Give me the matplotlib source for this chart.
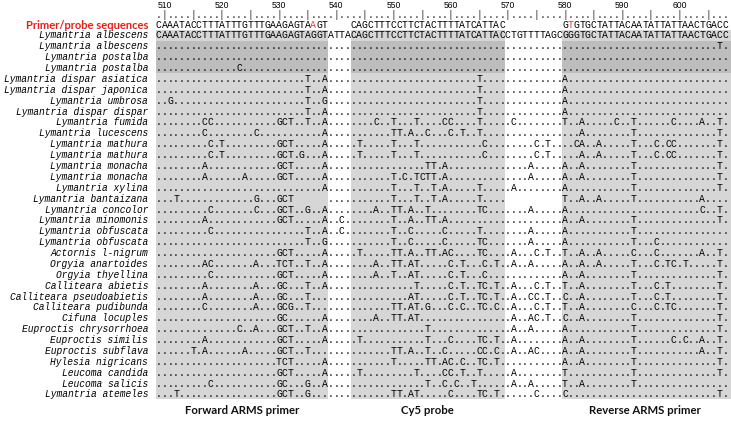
import re
import matplotlib
matplotlib.use("Agg")
import matplotlib.pyplot as plt
from matplotlib.patches import Rectangle

# ==========================================
# DATA
# ==========================================
first_position = 509
tick_positions = [510, 520, 530, 540, 550, 560, 570, 580, 590, 600]

reference_seq = ("CAAATACCTTTATTTGTTTGAAGAGTAGGTATTACAGCTTTCCTTCTACTTTTATCAT"
                 "TACCTGTTTTAGCGGGTGCTATTACAATATTATTAACTGACC")
primer_probe_seq = ("CAAATACCTTTATTTGTTTGAAGAGTAAGT    "
                    "CAGCTTTCCTTCTACTTTTATCATTAC          "
                    "GTGTGCTATTACAATATTATTAACTGACC")
mismatch_cols = [27, 72]   # red bases in the primer row

species = [
    "Lymantria albescens", "Lymantria albescens", "Lymantria postalba",
    "Lymantria postalba", "Lymantria dispar asiatica", "Lymantria dispar japonica",
    "Lymantria umbrosa", "Lymantria dispar dispar", "Lymantria fumida",
    "Lymantria lucescens", "Lymantria mathura", "Lymantria mathura",
    "Lymantria monacha", "Lymantria monacha", "Lymantria xylina",
    "Lymantria bantaizana", "Lymantria concolor", "Lymantria minomonis",
    "Lymantria obfuscata", "Lymantria obfuscata", "Actornis l-nigrum",
    "Orgyia anartoides", "Orgyia thyellina", "Calliteara abietis",
    "Calliteara pseudoabietis", "Calliteara pudibunda", "Cifuna locuples",
    "Euproctis chrysorrhoea", "Euproctis similis", "Euproctis subflava",
    "Hylesia nigricans", "Leucoma candida", "Leucoma salicis",
    "Lymantria atemeles",
]

# differences to the first L. albescens sequence: "<column><bases>"
variants = [
    "FULL",
    "98T",
    "",
    "14C",
    "26T 29A 56T 71A",
    "26T 29A 56T 71A",
    "2G 26T 29G 56T 71A",
    "26T 29A 56T 71A",
    "8CC 21GCT 26T 29A 38C 41T 45T 50CC 56T 62C 71T 74A 80C 83T 90C 95A 98T",
    "8C 17C 29A 41TT 44A 47C 51C 53T 56T 74A 83T 98T",
    "9C 11T 21GCT 29A 35T 41T 45T 57C 66C 68T 73CA 77A 83T 87C 89CC 98T",
    "9C 11T 21GCT 25G 29A 35T 41T 45T 57C 66C 68T 74A 77A 83T 87C 89CC 98T",
    "8A 21GCT 29A 47TT 50A 65A 71A 74A 83T 98T",
    "8A 15A 21GCT 29A 41T 43C 45TCTT 50A 65A 71A 74A 83T 98T",
    "29A 41T 45T 48T 50A 56T 62A 71A 83T 98T",
    "3T 17G 21GCT 41T 45T 48T 50A 56T 71T 74A 77A 83T 95A",
    "9C 17C 21GCT 26G 29A 38A 41TT 44A 47T 56TC 65A 71A 95C 98T",
    "8A 21GCT 29A 32C 41T 44A 47TT 50A 71A 74A 83T 98T",
    "9C 26T 29A 32C 41T 44C 50C 56T 65A 71A 83T",
    "26T 29G 41T 44C 50C 56TC 65A 71A 83T 87C",
    "21GCT 29A 35T 41TT 44A 47TT 50AC 56TC 62A 66C 68T 71T 74A 77A 83C 87C 95A 98T",
    "8AC 17A 21TCT 26T 29A 38A 41TT 44AT 51C 53T 57C 59T 62A 65A 71A 74A 77A 83T 87C 89TC 92T 98T",
    "9C 21GCT 29A 38A 41T 44AT 51C 53T 57C 71A 74A 83T 98T",
    "8A 17A 21GC 26T 29A 45T 51C 53T 56TC 59T 62A 66C 68T 71T 74A 83T 87C 89T 98T",
    "8A 17A 21GC 26T 44AT 51C 53T 56TC 59T 62A 65CC 68T 71C 74A 83T 87C 89T 98T",
    "8C 17A 21GCG 26T 41TT 44AT 47G 51C 53C 56TC 59C 62A 66C 68T 71T 74A 83C 87C 89TC 98T",
    "21GC 29A 38A 41TT 44AT 62A 65AC 68T 71C 74A 83T 98T",
    "14C 17A 21GCT 26T 29A 47T 62A 65A 71A 83T 98T",
    "8A 21GCT 29A 35T 47T 51C 56TC 59T 62A 71A 74A 83T 90C 92C 95A 98T",
    "6T 8A 15A 21GCT 26T 41TT 44A 47T 50C 56CC 59C 62A 65AC 71A 74A 83T 95A 98T",
    "21TCT 29A 41T 47TT 50AC 53C 56TC 59T 71A 74A 83T 98T",
    "21GCT 29A 35T 45T 50CC 53T 56T 62A 71T 83T 98T",
    "9C 21GC 26G 29A 47T 50C 52C 55T 62A 65A 71T 74A 83T",
    "3T 21GCT 26G 41TT 44AT 51C 56TC 59T 66C 71C 98T",
]

# columns with no data (shown blank), keyed by alignment row
missing = {16: [(24, 29), (61, 70)]}

region_cols = [(0, 29), (34, 60), (71, 99)]
region_labels = ["Forward ARMS primer", "Cy5 probe", "Reverse ARMS primer"]
dark_rows = (2, 4)

# ==========================================
# BUILD ALIGNMENT ROWS
# ==========================================
rows = [primer_probe_seq]
for var in variants:
    if var == "FULL":
        rows.append(reference_seq)
        continue
    line = ["."] * len(reference_seq)
    for item in var.split():
        m = re.match(r"(\d+)([ACGT]+)", item)
        start, bases = int(m.group(1)), m.group(2)
        for k, b in enumerate(bases):
            line[start + k] = b
    r = len(rows)
    for a, b in missing.get(r, []):
        for k in range(a, b + 1):
            line[k] = " "
    rows.append("".join(line))

n_cols = len(reference_seq)
n_rows = len(rows)

# ==========================================
# PLOT
# ==========================================
fig = plt.figure(figsize=(7.31, 4.21), dpi=100)
ax = fig.add_axes([0, 0, 1, 1])
ax.set_xlim(-27.78, 100.02)
ax.set_ylim(36.44, -2.25)
ax.axis("off")

light_grey = "#d6d6d6"
dark_grey = "#bdbdbd"
for i, (a, b) in enumerate(region_cols):
    right = 100.02 if i == len(region_cols) - 1 else b + 0.5
    ax.add_patch(Rectangle((a - 0.5, 0.5), right - a + 0.5, n_rows - 1.1,
                           facecolor=light_grey, edgecolor="none", zorder=0))
    ax.add_patch(Rectangle((a - 0.5, dark_rows[0] - 0.5), right - a + 0.5,
                           dark_rows[1] - dark_rows[0] + 1,
                           facecolor=dark_grey, edgecolor="none", zorder=0))

mono = "Liberation Mono"
seq_size = 7.0

# ruler
for c in range(n_cols):
    pos = first_position + c
    ax.text(c, -0.55, "|" if pos % 5 == 0 else ".", ha="center", va="baseline",
            family=mono, fontsize=seq_size, color="#222222")
for pos in tick_positions:
    ax.text(pos - first_position, -1.75, str(pos), ha="center", va="center",
            family="Liberation Sans", fontsize=6.2)

# sequences
for r, line in enumerate(rows):
    for c, ch in enumerate(line):
        if ch == " ":
            continue
        color = "#e03a3a" if (r == 0 and c in mismatch_cols) else "black"
        ax.text(c, r + 0.28, ch, ha="center", va="baseline", family=mono,
                fontsize=seq_size, color=color)

# row labels
ax.text(-1.9, 0.05, "Primer/probe sequences", ha="right", va="center",
        family="Lato", fontweight="bold", fontsize=8, color="#e3201b")
for r, name in enumerate(species, start=1):
    ax.text(-1.9, r + 0.28, name, ha="right", va="baseline", family=mono,
            style="italic", fontsize=6.95)

# region labels
for (a, b), label in zip(region_cols, region_labels):
    ax.text((a + b) / 2, 35.5, label, ha="center", va="center",
            family="Lato", fontweight="bold", fontsize=8.2, color="#111111")

fig.savefig("out.png", dpi=100)
